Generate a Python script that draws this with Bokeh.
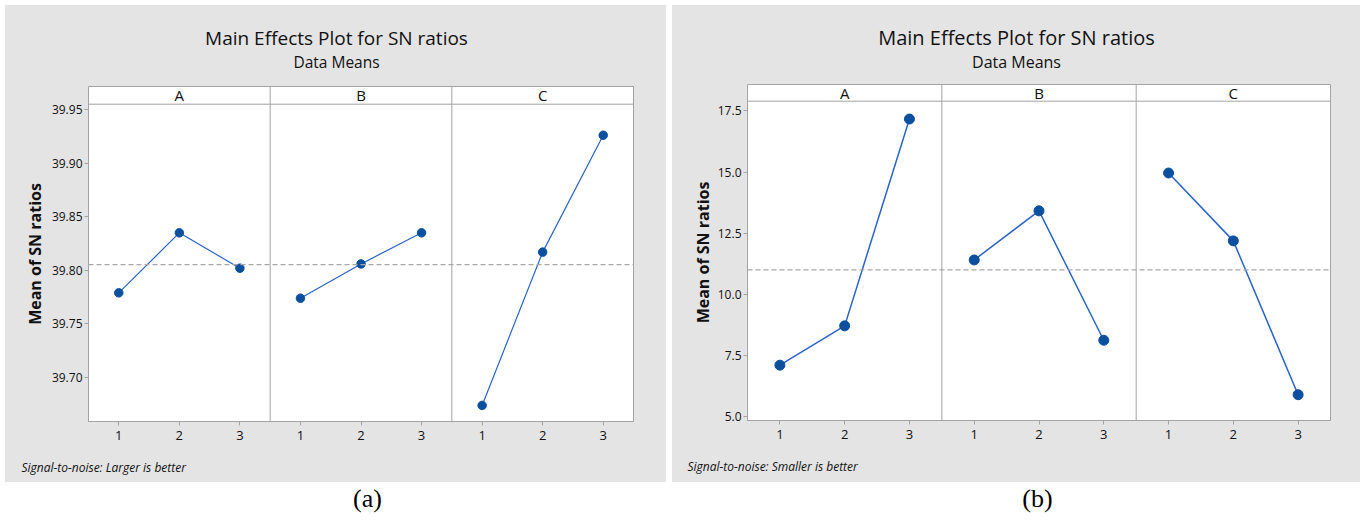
from bokeh.plotting import figure
from bokeh.models import FixedTicker, PrintfTickFormatter, Span, Label, Range1d, Title, Spacer
from bokeh.layouts import row, column
from bokeh.embed import file_html
from bokeh.resources import INLINE
from bokeh.core.properties import value

# ---------------- data ----------------
factors = ["A", "B", "C"]
levels = [1, 2, 3]

# (a) Signal-to-noise: Larger is better
a_A = [39.779, 39.835, 39.802]
a_B = [39.774, 39.806, 39.835]
a_C = [39.674, 39.817, 39.926]
a_ticks = [39.70, 39.75, 39.80, 39.85, 39.90, 39.95]

# (b) Signal-to-noise: Smaller is better
b_A = [7.09, 8.70, 17.17]
b_B = [11.40, 13.41, 8.11]
b_C = [14.96, 12.18, 5.88]
b_ticks = [5.0, 7.5, 10.0, 12.5, 15.0, 17.5]

title_text = "Main Effects Plot for SN ratios"
subtitle_text = "Data Means"
ylabel_text = "Mean of SN ratios"
foot_a = "Signal-to-noise: Larger is better"
foot_b = "Signal-to-noise: Smaller is better"

# ---------------- style ----------------
GRAY = "#e4e4e4"
FRAME = "#a3a3a3"
LINE = "#2a64c8"
MARK = "#0b4f9f"
DASH = "#a8a8a8"
FONT = "Open Sans"
TXT = "#111111"


def make_head(W, H, bl, br, cx, ty, sy, title_fs, sub_fs):
    h = figure(width=W, height=H, output_backend="svg", toolbar_location=None,
               x_axis_type=None, y_axis_type=None,
               min_border_left=bl, min_border_right=br, min_border_top=0, min_border_bottom=0,
               x_range=Range1d(0, 1), y_range=Range1d(0, 1),
               styles={"background-color": GRAY})
    h.grid.visible = False
    h.outline_line_color = None
    h.background_fill_color = GRAY
    h.border_fill_color = GRAY
    h.add_layout(Label(x=cx, y=ty, x_units="screen", y_units="screen",
                       text=title_text, text_align="center", text_baseline="middle",
                       text_font=FONT, text_font_size=title_fs, text_color=TXT))
    h.add_layout(Label(x=cx, y=sy, x_units="screen", y_units="screen",
                       text=subtitle_text, text_align="center", text_baseline="middle",
                       text_font=FONT, text_font_size=sub_fs, text_color=TXT))
    return h


def make_panel(series, ticks, fmt, y_lo, y_hi, y_top, W, H, borders,
               foot, foot_off, gap_fs, msize, lw, ylab_standoff, tick_fs):
    bl, br, bt, bb = borders
    n = len(levels)
    p = figure(width=W, height=H, output_backend="svg", toolbar_location=None,
               x_range=Range1d(0.5, n * len(factors) + 0.5),
               y_range=Range1d(y_lo, y_top),
               min_border_left=bl, min_border_right=br,
               min_border_top=bt, min_border_bottom=bb,
               styles={"background-color": GRAY})
    p.background_fill_color = "white"
    p.border_fill_color = GRAY
    p.outline_line_color = FRAME
    p.outline_line_width = 1
    p.grid.visible = False

    allv = []
    for k, vals in enumerate(series):
        xs = [lv + n * k for lv in levels]
        p.line(xs, vals, line_color=LINE, line_width=lw)
        p.scatter(xs, vals, size=msize, fill_color=MARK, line_color=MARK)
        allv += vals
    grand = sum(allv) / len(allv)
    p.add_layout(Span(location=grand, dimension="width", line_color=DASH,
                      line_dash="5 3", line_width=1.3))

    # facet header strip and separators
    p.add_layout(Span(location=y_hi, dimension="width", line_color=FRAME, line_width=1))
    for k in range(1, len(factors)):
        p.add_layout(Span(location=n * k + 0.5, dimension="height",
                          line_color=FRAME, line_width=1))
    p.text(x=[(n + 1) / 2 + n * k for k in range(len(factors))],
           y=[(y_hi + y_top) / 2] * len(factors), text=factors,
           text_align="center", text_baseline="middle",
           text_font=value(FONT), text_font_size="15px", text_color=TXT)

    # axes
    yax = p.yaxis[0]
    yax.ticker = FixedTicker(ticks=ticks)
    yax.formatter = PrintfTickFormatter(format=fmt)
    yax.bounds = (y_lo, y_hi)
    yax.axis_line_color = FRAME
    yax.major_tick_line_color = FRAME
    yax.major_tick_out = 4
    yax.major_tick_in = 0
    yax.minor_tick_line_color = None
    yax.major_label_standoff = 2
    yax.major_label_text_font = FONT
    yax.major_label_text_font_size = tick_fs
    yax.major_label_text_color = TXT
    yax.axis_label = ylabel_text
    yax.axis_label_text_font = FONT
    yax.axis_label_text_font_size = "16px"
    yax.axis_label_text_font_style = "bold"
    yax.axis_label_text_color = TXT
    yax.axis_label_standoff = ylab_standoff

    xt = [lv + n * k for k in range(len(factors)) for lv in levels]
    xax = p.xaxis[0]
    xax.ticker = FixedTicker(ticks=xt)
    xax.major_label_overrides = {lv + n * k: str(lv) for k in range(len(factors)) for lv in levels}
    xax.axis_line_color = FRAME
    xax.major_tick_line_color = FRAME
    xax.major_tick_out = 4
    xax.major_tick_in = 0
    xax.minor_tick_line_color = None
    xax.major_label_standoff = 5
    xax.major_label_text_font = FONT
    xax.major_label_text_font_size = "13px"
    xax.major_label_text_color = TXT

    # gap below the x axis, then the footnote
    p.add_layout(Title(text=" ", standoff=0, text_font=FONT, text_font_size=gap_fs), "below")
    p.add_layout(Title(text=foot, align="left", offset=foot_off, vertical_align="top",
                       standoff=0, text_font=FONT, text_font_size="12px",
                       text_font_style="italic", text_color=TXT), "below")
    return p


def make_caption(text, W, H, bl, cx, cy):
    c = figure(width=W, height=H, output_backend="svg", toolbar_location=None,
               x_axis_type=None, y_axis_type=None,
               min_border_left=bl, min_border_right=0, min_border_top=0, min_border_bottom=0,
               x_range=Range1d(0, 1), y_range=Range1d(0, 1))
    c.grid.visible = False
    c.outline_line_color = None
    c.background_fill_color = "white"
    c.border_fill_color = "white"
    c.add_layout(Label(x=cx, y=cy, x_units="screen", y_units="screen", text=text,
                       text_align="center", text_baseline="middle",
                       text_font="Liberation Serif", text_font_size="26px",
                       text_color="black"))
    return c


# left (a): gray box x 5..666, frame x 88..633, header 86..104, frame bottom 421
ha = make_head(661, 81, 83, 33, 248, 49, 24.5, "19px", "15.5px")
pa = make_panel([a_A, a_B, a_C], a_ticks, "%.2f",
                39.659, 39.955, 39.9715, 661, 396, (83, 33, 0, 61),
                foot_a, -67, "10px", 8.5, 1.2, 3, "12px")
ca = make_caption("(a)", 661, 34, 83, 279, 18)

# right (b): gray box x 672..1360, frame x 747..1330, header 84..101, frame bottom 420
hb = make_head(688, 79, 75, 30, 269, 47, 22.5, "20px", "16px")
pb = make_panel([b_A, b_B, b_C], b_ticks, "%.1f",
                4.824, 17.901, 18.585, 688, 398, (75, 30, 0, 62),
                foot_b, -60, "10px", 10, 1.5, 1, "12px")
cb = make_caption("(b)", 688, 34, 75, 290, 18)

left = column(column(ha, pa, styles={"background-color": GRAY}), ca)
right = column(column(hb, pb, styles={"background-color": GRAY}), cb)

layout = column(Spacer(height=5),
                row(Spacer(width=5), left, Spacer(width=6), right))

open("out.html", "w").write(file_html(layout, INLINE))
